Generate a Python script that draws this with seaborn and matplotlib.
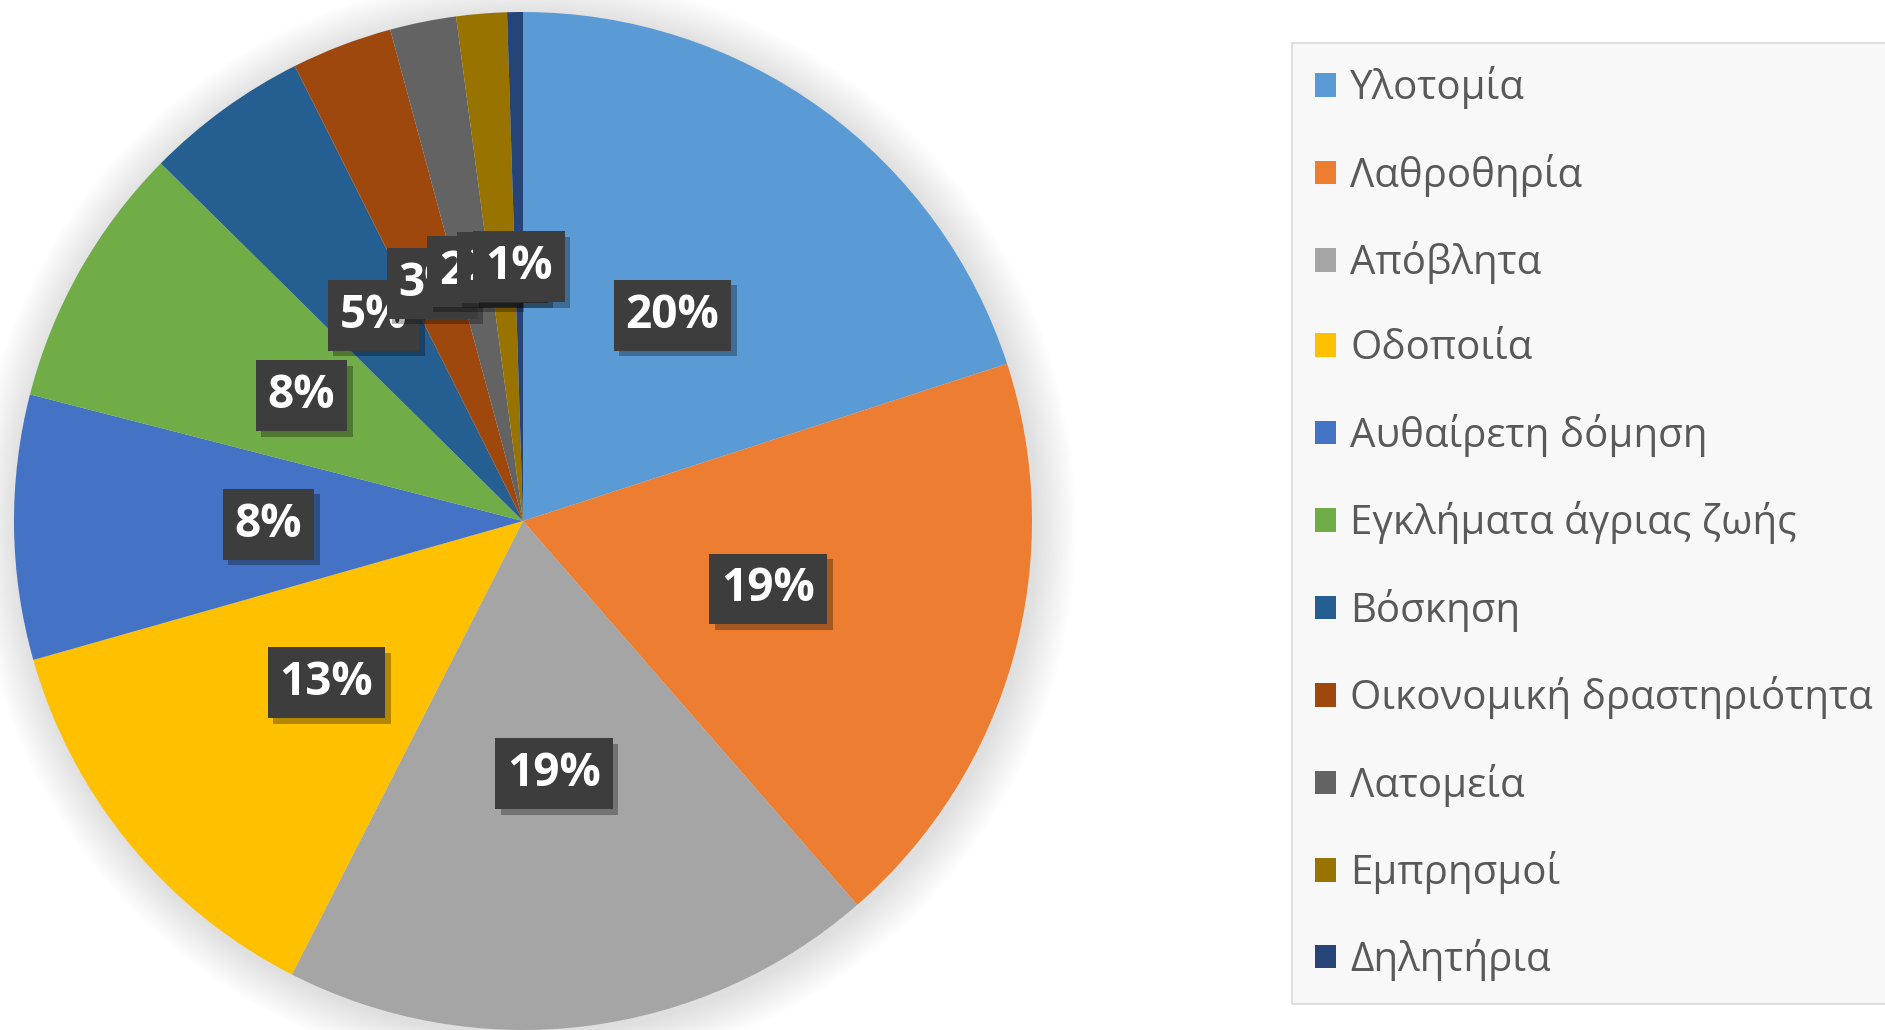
import matplotlib
matplotlib.use("Agg")
import matplotlib.pyplot as plt
import matplotlib.patheffects as pe
from matplotlib.patches import Circle, Patch
import seaborn as sns

categories = ["Υλοτομία", "Λαθροθηρία", "Απόβλητα", "Οδοποιία", "Αυθαίρετη δόμηση",
              "Εγκλήματα άγριας ζωής", "Βόσκηση", "Οικονομική δραστηριότητα",
              "Λατομεία", "Εμπρησμοί", "Δηλητήρια"]
shares = [20.0, 18.6, 18.9, 13.1, 8.4, 8.4, 5.2, 3.2, 2.1, 1.6, 0.5]
colors = ["#5B9BD5", "#ED7D31", "#A5A5A5", "#FFC000", "#4472C4", "#70AD47",
          "#255E91", "#9E480E", "#636363", "#997300", "#264478"]

sns.set_theme(style="white")
plt.rcParams["font.family"] = ["Open Sans", "DejaVu Sans"]
palette = sns.color_palette(colors)

W, H, DPI = 1885, 1030, 100
fig = plt.figure(figsize=(W / DPI, H / DPI), dpi=DPI)
fig.patch.set_facecolor("white")

R_PX = 509
CX, CY = 523, H - 521
L = 1.1
side = 2 * L * R_PX
ax = fig.add_axes([(CX - side / 2) / W, (CY - side / 2) / H, side / W, side / H])

wedges, texts, autotexts = ax.pie(
    shares, colors=palette, startangle=90, counterclock=False,
    autopct=lambda p: f"{int(p + 0.5)}%", pctdistance=0.5, radius=1.0,
    wedgeprops=dict(linewidth=0, edgecolor="none"),
    textprops=dict(color="white", fontsize=33, fontweight="bold"))
ax.set_xlim(-L, L)
ax.set_ylim(-L, L)
ax.set_aspect("equal")
ax.axis("off")

# soft outer shadow
n = 32
for k in range(n):
    r = 1.0 + 0.0026 * (n - k)
    ax.add_patch(Circle((0.006, -0.008), r, facecolor="black", edgecolor="none",
                        alpha=0.0055, zorder=0))

for w in wedges:
    w.set_zorder(2)
for t in autotexts:
    t.set_zorder(5)
    t.set_bbox(dict(boxstyle="square,pad=0.26", facecolor="#3d3d3d",
                    edgecolor="#3d3d3d", linewidth=0))
    t.get_bbox_patch().set_path_effects([
        pe.SimplePatchShadow(offset=(4, -4), shadow_rgbFace="black", alpha=0.3),
        pe.Normal()])

handles = [Patch(facecolor=c, edgecolor="none") for c in palette]
leg = fig.legend(handles, categories, loc="upper left",
                 bbox_to_anchor=(1292 / W, 1 - 43 / H),
                 frameon=True, fancybox=False, fontsize=29,
                 handlelength=0.52, handleheight=0.52, handletextpad=0.35,
                 labelspacing=1.105, borderpad=0.58, borderaxespad=0)
frame = leg.get_frame()
frame.set_facecolor("#f8f8f8")
frame.set_edgecolor("#d9d9d9")
frame.set_linewidth(1.2)
frame.set_alpha(1)
for t in leg.get_texts():
    t.set_color("#595959")

fig.savefig("out.png", dpi=DPI, facecolor="white")
